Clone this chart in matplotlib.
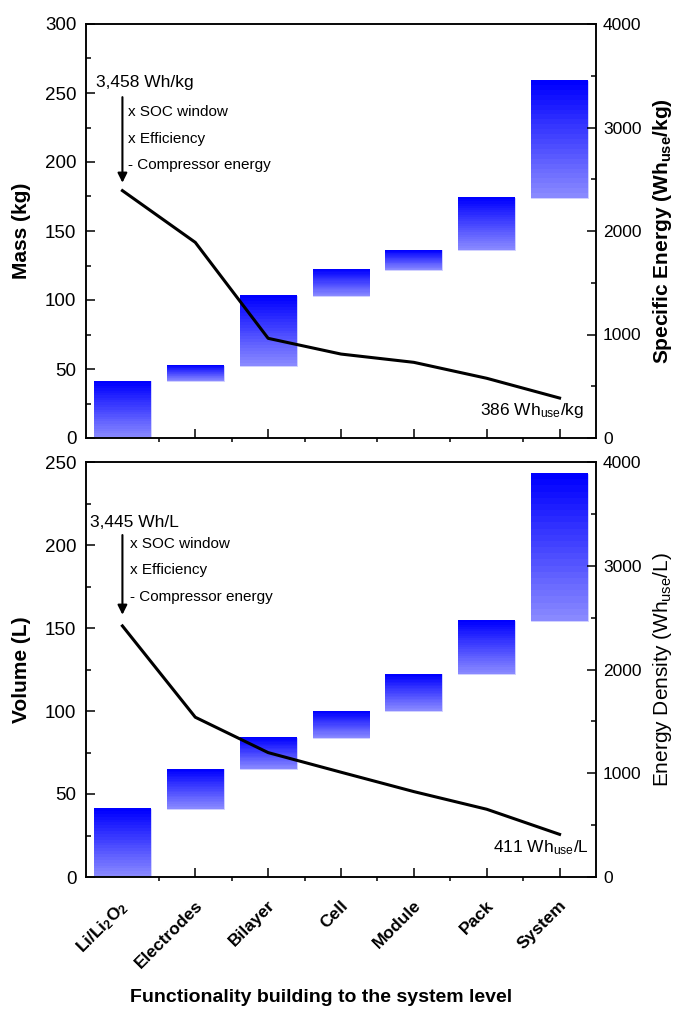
import numpy as np
import matplotlib
matplotlib.use('Agg')
import matplotlib.pyplot as plt
from matplotlib.colors import LinearSegmentedColormap
from matplotlib.patches import Rectangle
from matplotlib.transforms import ScaledTranslation

plt.rcParams['font.family'] = ['Liberation Sans', 'DejaVu Sans']
plt.rcParams['mathtext.fontset'] = 'custom'
plt.rcParams['mathtext.rm'] = 'Liberation Sans'
plt.rcParams['mathtext.it'] = 'Liberation Sans:italic'
plt.rcParams['mathtext.bf'] = 'Liberation Sans:bold'

categories = ['Li/Li$_\\mathbf{2}$O$_\\mathbf{2}$', 'Electrodes', 'Bilayer', 'Cell',
              'Module', 'Pack', 'System']

# cumulative top of each waterfall step
mass_top = [41, 52, 103, 122, 136, 174, 259]          # kg
specific_energy = [2390, 1890, 963, 811, 731, 577, 386]  # Wh_use/kg

volume_top = [41, 65, 84, 100, 122, 154, 243]         # L
energy_density = [2420, 1540, 1199, 1010, 823, 653, 411]  # Wh_use/L

x = np.arange(len(categories))
bar_w = 0.78
grad = LinearSegmentedColormap.from_list('blu', [(0.54, 0.54, 1.0), (0.0, 0.0, 1.0)])
gradient = np.linspace(0, 1, 24).reshape(-1, 1)


def waterfall(ax, tops):
    bottoms = [0] + list(tops[:-1])
    for xi, b, t in zip(x, bottoms, tops):
        ax.imshow(gradient, extent=[xi - bar_w / 2, xi + bar_w / 2, b, t],
                  origin='lower', aspect='auto', cmap=grad, interpolation='nearest',
                  zorder=2)
        ax.add_patch(Rectangle((xi - bar_w / 2, b), bar_w, t - b, fill=False,
                               edgecolor=(0.78, 0.78, 1.0), lw=0.6, zorder=1))


def style(ax, ax2, ymax, ystep, ylabel, y2label, y2weight):
    ax.set_xlim(-0.5, 6.5)
    ax.set_ylim(0, ymax)
    ax2.set_ylim(0, 4000)
    ax.set_xticks(x)
    ax.set_xticks(np.arange(0.5, 6, 1), minor=True)
    ax.set_yticks(np.arange(0, ymax + 1, ystep))
    ax.set_yticks(np.arange(ystep / 2, ymax, ystep), minor=True)
    ax2.set_yticks(np.arange(0, 4001, 1000))
    ax2.set_yticks(np.arange(500, 4000, 1000), minor=True)
    ax.tick_params(axis='x', which='major', direction='in', length=6.5, width=1.1, pad=15)
    ax.tick_params(axis='x', which='minor', direction='out', length=3, width=1.1)
    ax.tick_params(axis='y', which='major', direction='in', length=6.5, width=1.1,
                   labelsize=13.5, pad=7)
    ax.tick_params(axis='y', which='minor', direction='in', length=3.5, width=1.1)
    ax2.tick_params(axis='y', which='major', direction='in', length=6.5, width=1.1,
                    labelsize=12.5, pad=5)
    ax2.tick_params(axis='y', which='minor', direction='in', length=3.5, width=1.1)
    for s in ax.spines.values():
        s.set_linewidth(1.1)
    for s in ax2.spines.values():
        s.set_linewidth(1.1)
    ax.set_ylabel(ylabel, fontsize=15, fontweight='bold')
    ax.yaxis.set_label_coords(-0.108, 0.5)
    ax2.set_ylabel(y2label, fontsize=15, fontweight=y2weight)
    ax2.yaxis.set_label_coords(1.108, 0.5)


fig = plt.figure(figsize=(6.78, 10.09), dpi=100)
ax1 = fig.add_axes([86 / 678, 1 - 438 / 1009, 510 / 678, 414 / 1009])
ax3 = fig.add_axes([86 / 678, 1 - 877 / 1009, 510 / 678, 415 / 1009])

# top panel: mass and specific energy
waterfall(ax1, mass_top)
ax2 = ax1.twinx()
ax2.plot(x, specific_energy, color='k', lw=2.2)
style(ax1, ax2, 300, 50, 'Mass (kg)',
      'Specific Energy (Wh$_{\\mathbf{use}}$/kg)', 'bold')
ax1.set_xticklabels([])
ax1.annotate('', xy=(0, 185), xytext=(0, 247),
             arrowprops=dict(arrowstyle='-|>', color='k', lw=1.5, mutation_scale=14,
                             shrinkA=0, shrinkB=0))
ax1.text(-0.36, 254, '3,458 Wh/kg', fontsize=12.5, va='baseline')
for yy, t in zip([233, 214, 195], ['x SOC window', 'x Efficiency', '- Compressor energy']):
    ax1.text(0.08, yy, t, fontsize=11, va='baseline')
ax2.text(6.34, 222, '386 Wh$_{\\mathregular{use}}$/kg', fontsize=12.5, ha='right', va='baseline')

# bottom panel: volume and energy density
waterfall(ax3, volume_top)
ax4 = ax3.twinx()
ax4.plot(x, energy_density, color='k', lw=2.2)
style(ax3, ax4, 250, 50, 'Volume (L)',
      'Energy Density (Wh$_{\\mathregular{use}}$/L)', 'normal')
ax3.set_xticklabels(categories, rotation=45, ha='right', fontsize=12.5, fontweight='bold')
for lab in ax3.get_xticklabels():
    lab.set_transform(lab.get_transform() + ScaledTranslation(0.1, 0, fig.dpi_scale_trans))
ax3.annotate('', xy=(0, 158), xytext=(0, 206),
             arrowprops=dict(arrowstyle='-|>', color='k', lw=1.5, mutation_scale=14,
                             shrinkA=0, shrinkB=0))
ax3.text(-0.45, 210.7, '3,445 Wh/L', fontsize=12.5, va='baseline')
for yy, t in zip([198.4, 182.4, 166.3], ['x SOC window', 'x Efficiency', '- Compressor energy']):
    ax3.text(0.11, yy, t, fontsize=11, va='baseline')
ax4.text(6.4, 241, '411 Wh$_{\\mathregular{use}}$/L', fontsize=12.5, ha='right', va='baseline')

fig.text(321 / 678, 1 - 997 / 1009, 'Functionality building to the system level',
         ha='center', va='center', fontsize=14, fontweight='bold')

fig.savefig('out.png', dpi=100)
